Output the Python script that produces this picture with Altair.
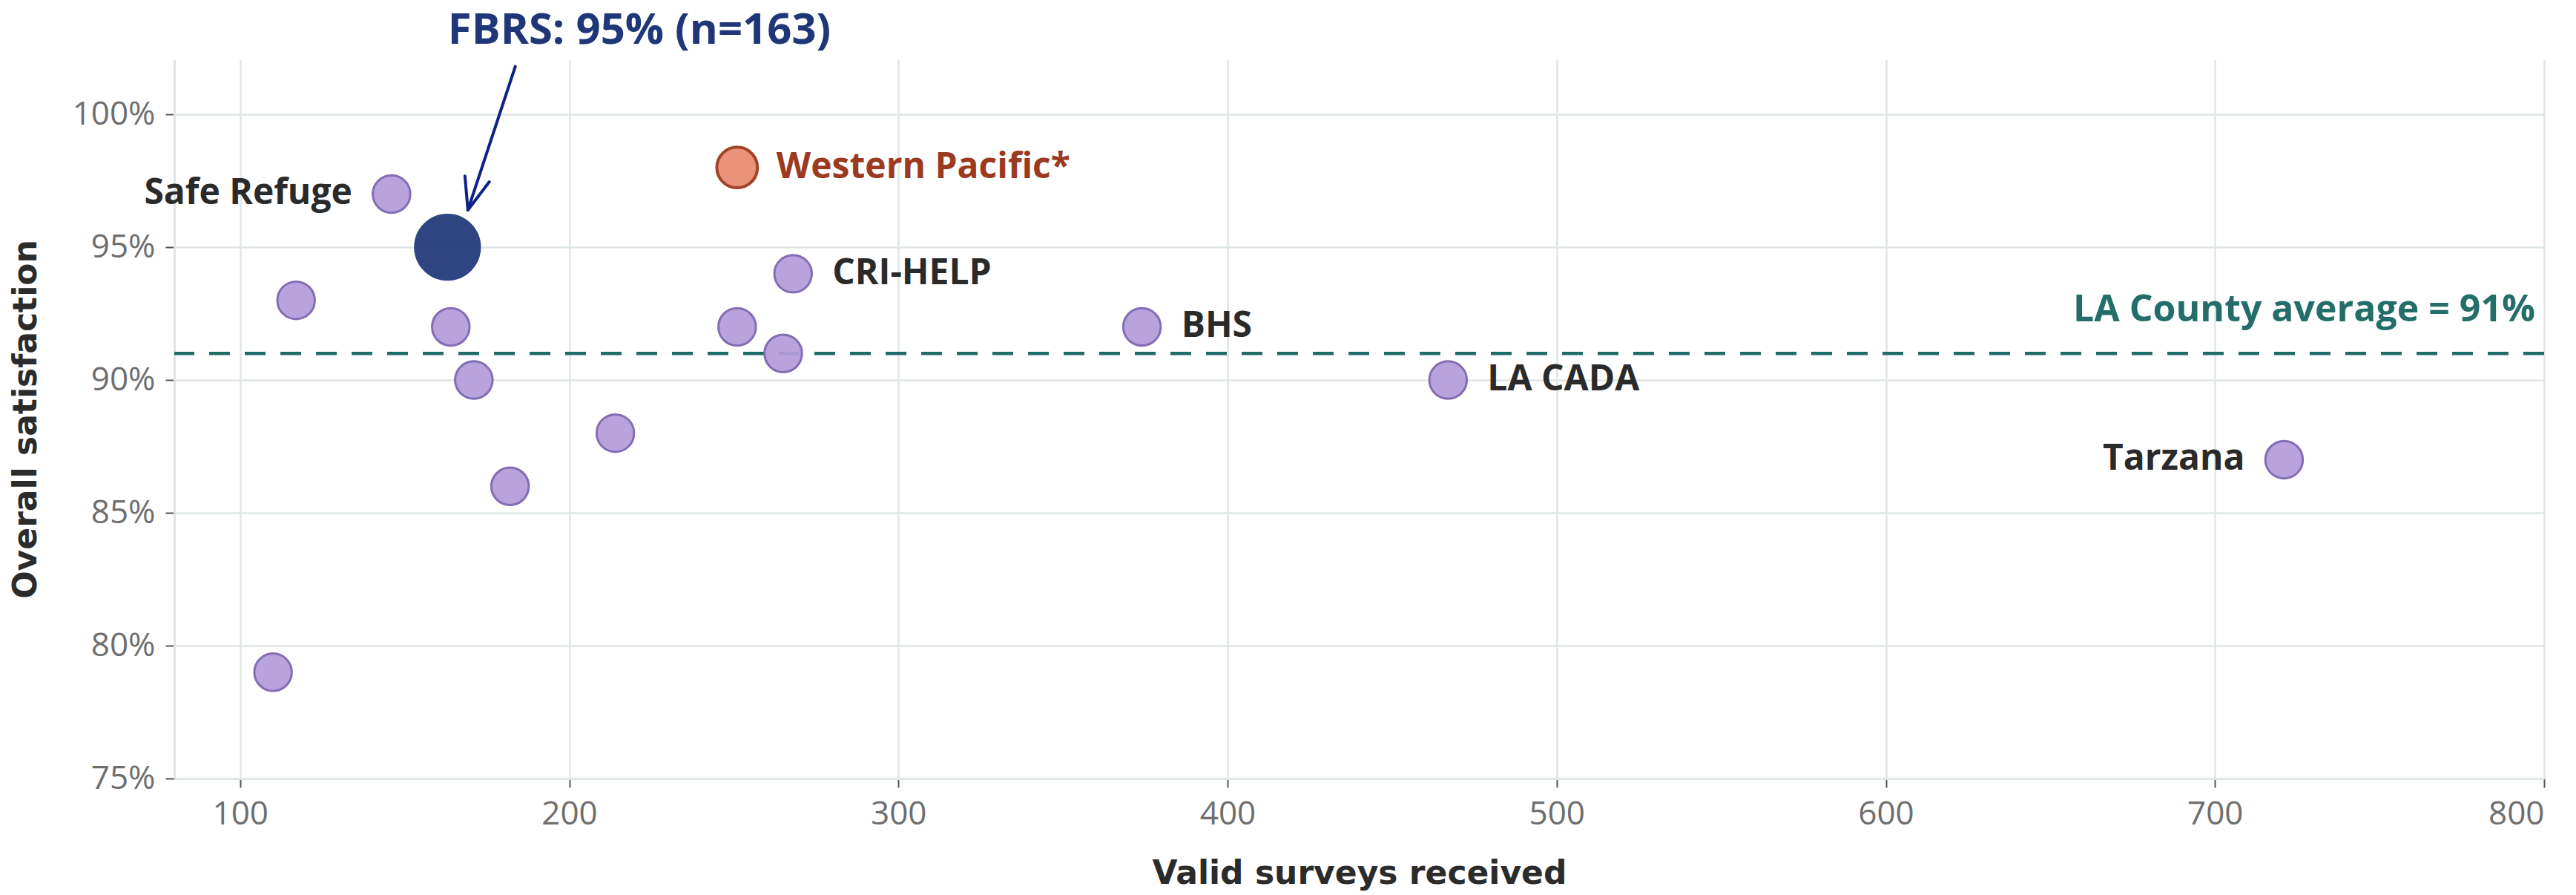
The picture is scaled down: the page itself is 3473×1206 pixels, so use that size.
import altair as alt
import pandas as pd

# ---- data ----
names = ["Safe Refuge", "FBRS", "", "", "", "", "", "", "Western Pacific*", "CRI-HELP", "", "", "BHS", "LA CADA", "Tarzana"]
surveys = [146, 163, 117, 164, 171, 182, 110, 214, 251, 268, 251, 265, 374, 467, 721]
satisfaction = [97, 95, 93, 92, 90, 86, 79, 88, 98, 94, 92, 91, 92, 90, 87]
groups = ["other", "fbrs", "other", "other", "other", "other", "other", "other", "wp", "other", "other", "other", "other", "other", "other"]
label_side = ["left", "none", "none", "none", "none", "none", "none", "none", "right", "right", "none", "none", "right", "right", "left"]

county_avg = [91]
county_label = ["LA County average = 91%"]

x_ticks = [100, 200, 300, 400, 500, 600, 700, 800]
y_ticks = [75, 80, 85, 90, 95, 100]

# FBRS call-out (text position and arrow segments, in data units)
fbrs_text = ["FBRS: 95% (n=163)"]
fbrs_text_x = [221.3]
fbrs_text_y = [102.65]
arrow_x = [183.6, 169.2, 169.2]
arrow_y = [101.8, 96.4, 96.4]
arrow_x2 = [169.2, 175.7, 168.3]
arrow_y2 = [96.4, 97.46, 97.68]

df = pd.DataFrame({
    "name": names, "surveys": surveys, "sat": satisfaction,
    "group": groups, "side": label_side,
})
avg_df = pd.DataFrame({"avg": county_avg, "label": county_label, "xpos": [797.3]})
fbrs_df = pd.DataFrame({"text": fbrs_text, "x": fbrs_text_x, "y": fbrs_text_y})
arrow_df = pd.DataFrame({"x": arrow_x, "y": arrow_y, "x2": arrow_x2, "y2": arrow_y2})

xscale = alt.Scale(domain=[80, 800], nice=False, zero=False)
yscale = alt.Scale(domain=[75, 102.07], nice=False, zero=False)

xaxis = alt.Axis(values=x_ticks, title="Valid surveys received", format="d")
yaxis = alt.Axis(values=y_ticks, title="Overall satisfaction", labelExpr="datum.value + '%'")

X = alt.X("surveys:Q", scale=xscale, axis=xaxis)
Y = alt.Y("sat:Q", scale=yscale, axis=yaxis)

avg_line = alt.Chart(avg_df).mark_rule(
    color="#1f6b66", strokeWidth=4.5, strokeDash=[28, 20]
).encode(y=alt.Y("avg:Q", scale=yscale))

avg_text = alt.Chart(avg_df).mark_text(
    align="right", baseline="alphabetic", dy=-43, font="Open Sans",
    fontWeight="bold", fontSize=50, color="#246e69"
).encode(x=alt.X("xpos:Q", scale=xscale), y=alt.Y("avg:Q", scale=yscale), text="label:N")

color_scale = alt.Scale(domain=["other", "fbrs", "wp"], range=["#b39ddb", "#1f3778", "#e88b70"])
stroke_scale = alt.Scale(domain=["other", "fbrs", "wp"], range=["#7b62b0", "#1f3778", "#9b3417"])

points = alt.Chart(df).mark_point(filled=True, shape="circle", opacity=0.93).encode(
    x=X, y=Y,
    fill=alt.Fill("group:N", scale=color_scale, legend=None),
    stroke=alt.Stroke("group:N", scale=stroke_scale, legend=None),
    strokeWidth=alt.condition(alt.datum.group == "wp", alt.value(4), alt.value(3)),
    size=alt.Size(
        "group:N",
        scale=alt.Scale(type="ordinal", domain=["other", "fbrs", "wp"], range=[2550, 7600, 3000]),
        legend=None,
    ),
)

label_color = alt.Color("group:N", scale=alt.Scale(domain=["other", "wp"], range=["#2a2a2a", "#9b3a1f"]), legend=None)

labels_right = alt.Chart(df).transform_filter(alt.datum.side == "right").mark_text(
    align="left", baseline="middle", dx=53, font="Open Sans", fontWeight="bold", fontSize=48
).encode(x=X, y=Y, text="name:N", color=label_color)

labels_left = alt.Chart(df).transform_filter(alt.datum.side == "left").mark_text(
    align="right", baseline="middle", dx=-53, font="Open Sans", fontWeight="bold", fontSize=48
).encode(x=X, y=Y, text="name:N", color=label_color)

fbrs_label = alt.Chart(fbrs_df).mark_text(
    align="center", baseline="alphabetic", font="Open Sans", fontWeight="bold",
    fontSize=58, color="#1f3778"
).encode(x=alt.X("x:Q", scale=xscale), y=alt.Y("y:Q", scale=yscale), text="text:N")

arrow = alt.Chart(arrow_df).mark_rule(color="#0d2288", strokeWidth=4, strokeCap="round").encode(
    x=alt.X("x:Q", scale=xscale), y=alt.Y("y:Q", scale=yscale),
    x2="x2:Q", y2="y2:Q",
)

chart = alt.layer(
    avg_line, avg_text, points, labels_right, labels_left, arrow, fbrs_label
).properties(
    width=3195, height=969, background="white"
).configure_view(
    stroke=None
).configure_axis(
    labelFont="Open Sans", labelFontSize=44, labelColor="#6e6e6e",
    tickColor="#555555", tickSize=12, tickWidth=2,
    gridColor="#dfe6e6", gridWidth=2.5,
    domainColor="#dfe6e6", domainWidth=3,
    labelPadding=14,
    titleFont="DejaVu Sans", titleFontSize=44, titleFontWeight="bold", titleColor="#2b2b2b",
).configure_axisX(
    titlePadding=36
).configure_axisY(
    titlePadding=40
)

chart.save("out.html", embed_options={"renderer": "svg", "actions": False})
